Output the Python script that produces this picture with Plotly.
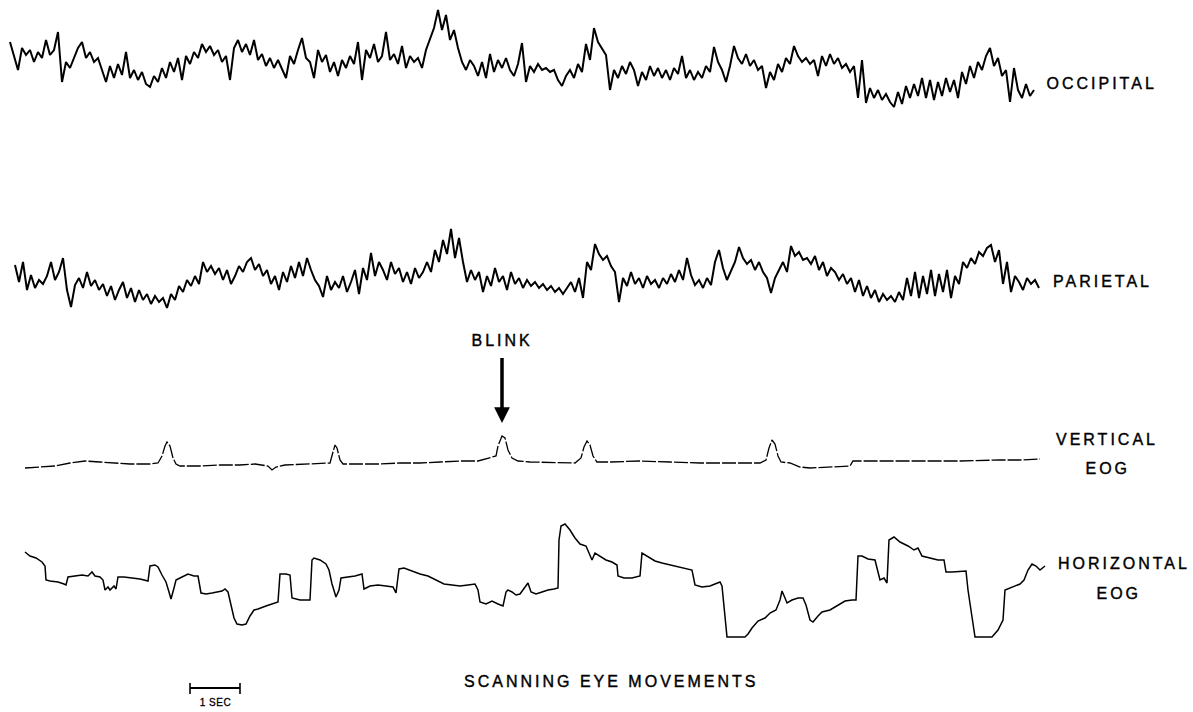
import numpy as np
import plotly.graph_objects as go

# ---------------- data ----------------
# EEG channels: uniform sampling, dt = 0.08 s, negative-up convention (arbitrary uV units)
DT = 0.08
OCCIPITAL_T0 = 0.0
OCCIPITAL = [-23, -10, 5, -17, -10, -15, -3, -13, -7, -25,
             -10, -15, -33, 17, -3, 3, -7, -17, -23, -7,
             -13, -3, -7, 5, 17, 1, 13, -1, 10, -13,
             13, 5, 15, 7, 19, 22, 11, 17, 3, 13,
             -3, 7, -7, 15, -9, -1, -13, -7, -21, -13,
             -19, -10, -15, -3, -9, 15, -17, -25, -13, -21,
             -10, -25, -5, -11, 1, -7, 3, -5, 5, 13,
             -9, -1, -15, -27, -7, -3, 13, -15, -3, -10,
             7, -3, 11, -5, 3, -9, -1, -23, 15, -15,
             -7, -21, -3, -9, -33, -5, -11, -1, -19, 3,
             -9, -3, -7, 3, -15, -27, -37, -55, -35, -50,
             -25, -35, -17, -3, 5, -5, 1, 11, -3, 13,
             -11, 7, -5, 3, -7, 5, 11, -1, -22, 17,
             1, 7, -1, 5, 3, 7, 5, 15, 21, 11,
             5, 13, -1, 7, -21, -5, -37, -23, -17, -10,
             25, 5, 13, 1, 9, -3, 5, 21, 7, 15,
             1, 11, 3, 13, 5, 15, 3, 9, -9, 13,
             5, 15, 7, 13, 1, 7, -18, -3, 5, 17,
             1, -19, -7, -1, -11, 1, -5, 5, 1, 23,
             7, 15, -1, 7, -7, -1, -19, -9, -3, -7,
             -1, -5, 11, -9, 1, -11, -1, -7, 3, -1,
             7, 1, 33, -5, 38, 23, 33, 25, 35, 29,
             37, 42, 27, 39, 21, 33, 19, 31, 13, 33,
             15, 35, 17, 31, 13, 27, 15, 33, 7, 19,
             1, 13, -3, 5, -9, -17, 1, -7, 11, 5,
             37, 3, 25, 33, 19, 31, 25]

PARIETAL_T0 = 0.1
PARIETAL = [-15, 2, -18, 10, -5, 8, 0, 4, -4, -18,
            0, -8, -22, 10, 27, 5, -2, 8, -8, 6,
            0, 10, 4, 16, 6, 20, 10, 2, 18, 8,
            22, 10, 20, 14, 24, 16, 22, 18, 28, 14,
            20, 6, 12, 0, 6, -4, 4, -18, -8, -14,
            -6, -12, 0, -10, 4, -4, -14, -8, -18, -22,
            -10, -16, -4, -10, 4, -4, 10, -8, 2, -14,
            -2, -18, -4, -22, -10, 0, 6, 17, -4, 10,
            2, 8, -4, 12, 2, -10, 14, -12, 0, -27,
            -4, -18, -10, 0, -18, -6, -12, 2, -8, 4,
            -12, -2, -8, -18, -8, -30, -18, -40, -26, -51,
            -22, -42, -18, 2, -10, 0, -8, 12, -4, 6,
            -12, 2, -4, 10, -8, 4, -2, 8, 0, 6,
            2, 8, 4, 10, 6, 12, 8, 14, 8, 2,
            12, -2, 18, -18, -10, -36, -26, -20, -24, -14,
            -8, 22, -2, 6, -8, 4, -2, 8, -4, 4,
            0, 8, -2, 4, -6, 2, -10, 0, -22, -5,
            5, 0, 8, -2, 5, -18, -30, -12, 0, -10,
            -18, -33, -22, -16, -20, -10, -18, -8, -2, 13,
            -2, -10, -18, -8, -34, -24, -28, -20, -22, -16,
            -24, -10, -18, -4, -12, -8, 0, -6, 4, -2,
            12, 0, 16, 6, 18, 10, 22, 14, 20, 16,
            22, 12, 20, -2, 16, -8, 18, -4, 14, -10,
            16, -6, 12, -10, 18, -4, 4, -18, -12, -22,
            -16, -28, -24, -32, -35, -18, -30, 4, -18, 12,
            -4, 2, 10, -2, 4, 0, 8]

# EOG channels: irregular sample times (s), negative-up
VEOG_T = [0.30, 0.60, 0.90, 1.20, 1.50, 1.80, 2.10, 2.40, 2.80, 2.96,
          3.04, 3.10, 3.14, 3.20, 3.26, 3.32, 3.40, 3.80, 4.20, 4.60,
          4.90, 5.16, 5.24, 5.32, 5.50, 6.40, 6.46, 6.50, 6.54, 6.60,
          6.66, 7.00, 7.40, 7.80, 8.20, 8.60, 9.00, 9.36, 9.60, 9.72,
          9.76, 9.84, 9.90, 9.96, 10.04, 10.16, 10.40, 11.00, 11.30, 11.42,
          11.48, 11.54, 11.60, 11.66, 11.74, 12.00, 12.60, 13.20, 13.80, 14.40,
          15.00, 15.12, 15.18, 15.24, 15.30, 15.36, 15.42, 15.60, 15.80, 16.00,
          16.40, 16.80, 16.86, 17.40, 18.20, 19.00, 19.80, 20.20, 20.60]
VEOG = [4, 3, 2, -1, -3, -2, -1, 0, 0, -1,
        -8, -18, -22, -18, -6, 0, 2, 2, 1, 1,
        0, 2, 6, 3, 1, -1, -12, -19, -16, -4,
        0, 0, 0, -1, -1, -2, -3, -3, -6, -8,
        -18, -28, -26, -14, -6, -3, -2, -1, -1, -6,
        -17, -23, -19, -8, -2, -2, -3, -2, -1, -1,
        -1, -4, -16, -24, -20, -8, -2, -1, 3, 4,
        3, 2, -3, -3, -3, -3, -4, -4, -5]

HEOG_T = [0.30, 0.40, 0.52, 0.64, 0.70, 0.72, 0.80, 0.96, 1.08, 1.12,
          1.16, 1.30, 1.44, 1.56, 1.64, 1.70, 1.80, 1.86, 1.90, 1.96,
          2.00, 2.08, 2.12, 2.16, 2.28, 2.44, 2.60, 2.76, 2.80, 2.90,
          2.96, 3.04, 3.12, 3.18, 3.22, 3.28, 3.32, 3.40, 3.48, 3.56,
          3.68, 3.76, 3.82, 3.92, 4.04, 4.16, 4.24, 4.30, 4.36, 4.42,
          4.48, 4.54, 4.64, 4.72, 4.80, 4.88, 4.96, 5.12, 5.24, 5.36,
          5.40, 5.52, 5.60, 5.64, 5.80, 6.00, 6.04, 6.08, 6.20, 6.32,
          6.38, 6.44, 6.52, 6.58, 6.62, 6.76, 6.90, 7.04, 7.08, 7.20,
          7.36, 7.52, 7.66, 7.72, 7.78, 7.88, 8.04, 8.20, 8.36, 8.52,
          8.68, 8.84, 9.00, 9.16, 9.30, 9.36, 9.40, 9.52, 9.64, 9.76,
          9.86, 9.92, 9.96, 10.04, 10.12, 10.20, 10.32, 10.36, 10.42, 10.52,
          10.64, 10.76, 10.88, 10.96, 10.98, 11.02, 11.10, 11.20, 11.30, 11.40,
          11.52, 11.60, 11.64, 11.70, 11.80, 11.92, 12.04, 12.14, 12.16, 12.28,
          12.44, 12.60, 12.64, 12.76, 12.90, 13.04, 13.20, 13.36, 13.52, 13.64,
          13.70, 13.84, 14.00, 14.12, 14.20, 14.24, 14.28, 14.34, 14.50, 14.70,
          14.76, 14.84, 14.96, 15.10, 15.20, 15.32, 15.40, 15.44, 15.50, 15.54,
          15.64, 15.76, 15.86, 15.92, 16.00, 16.06, 16.16, 16.24, 16.40, 16.56,
          16.70, 16.84, 16.92, 16.96, 17.04, 17.16, 17.30, 17.36, 17.40, 17.48,
          17.54, 17.58, 17.68, 17.80, 17.96, 18.08, 18.16, 18.24, 18.40, 18.56,
          18.68, 18.72, 18.84, 19.00, 19.12, 19.16, 19.24, 19.30, 19.50, 19.64,
          19.76, 19.86, 19.90, 20.00, 20.12, 20.20, 20.28, 20.36, 20.44, 20.52,
          20.60, 20.70]
HEOG = [-28, -24, -22, -18, -14, 0, 1, 2, 4, 5,
        -3, -4, -5, -4, -8, -4, -3, 0, 10, 7,
        10, 6, 9, -3, -3, -2, -1, 1, -14, -15,
        -13, -5, 2, 12, 19, 8, 0, -2, -4, -6,
        -4, -4, 13, 14, 13, 12, 11, 9, 12, 25,
        38, 44, 45, 44, 36, 30, 29, 26, 24, 22,
        -6, -6, -5, 18, 20, 20, -20, -22, -20, -16,
        -10, 4, 17, 10, -2, -3, -4, -6, 9, 6,
        5, 6, 7, 13, -11, -12, -9, -6, -4, 0,
        4, 5, 6, 5, 4, 10, 22, 24, 21, 24,
        26, 12, 10, 12, 15, 14, 6, 3, 12, 14,
        12, 10, 9, 8, -40, -54, -56, -50, -42, -36,
        -34, -25, -20, -27, -24, -20, -18, -15, -4, -2,
        -2, -4, -27, -23, -19, -17, -15, -13, -11, -10,
        5, 7, 6, 4, 2, 6, 30, 57, 57, 57,
        54, 48, 41, 38, 33, 30, 20, 11, 18, 23,
        20, 18, 18, 25, 40, 42, 36, 32, 30, 25,
        21, 20, 20, -24, -24, -21, -20, -8, 0, -2,
        3, -40, -43, -38, -34, -30, -32, -24, -22, -20,
        -20, -8, -8, -9, -9, 10, 40, 57, 57, 57,
        50, 40, 10, 8, 6, 4, 0, -10, -16, -14,
        -10, -14]

# label lines for each channel
CHANNEL_LABELS = [["OCCIPITAL"], ["PARIETAL"], ["VERTICAL", "EOG"], ["HORIZONTAL", "EOG"]]
TITLE = "SCANNING EYE MOVEMENTS"
BLINK_LABEL = "BLINK"
SCALE_LABEL = "1 SEC"
SCALE_BAR_START = 3.6   # s
SCALE_BAR_LEN = 1.0     # s

# ---------------- layout helpers ----------------
W, H = 1193, 712
X_RANGE = [-0.2, 23.66]           # seconds across the full width
BASELINE_PX = [65, 280, 464, 580]  # vertical placement of each channel (px from top)
LABEL_PX = [[(1101, 83)], [(1102, 281)], [(1107, 440), (1108, 468)], [(1124, 563), (1119, 593)]]


def pap(xp, yp):
    return xp / W, 1 - yp / H


fig = go.Figure()

t_occ = OCCIPITAL_T0 + DT * np.arange(len(OCCIPITAL))
t_par = PARIETAL_T0 + DT * np.arange(len(PARIETAL))

series = [(t_occ, OCCIPITAL, 2.0, "solid"), (t_par, PARIETAL, 2.0, "solid"),
          (VEOG_T, VEOG, 1.3, "14px,2px"), (HEOG_T, HEOG, 1.5, "solid")]
for i, (t, v, w, d) in enumerate(series):
    fig.add_trace(go.Scatter(x=t, y=v, mode="lines",
                             line=dict(color="#000000", width=w, dash=d),
                             yaxis="y" if i == 0 else f"y{i+1}",
                             showlegend=False, hoverinfo="skip"))

layout_axes = {}
for i, b in enumerate(BASELINE_PX):
    key = "yaxis" if i == 0 else f"yaxis{i+1}"
    ax = dict(range=[H - b, -b], visible=False, fixedrange=True)
    if i > 0:
        ax["overlaying"] = "y"
    layout_axes[key] = ax

font = dict(family="Liberation Sans, Arial, sans-serif", size=16, color="#000000")

ann = []
for lines, positions in zip(CHANNEL_LABELS, LABEL_PX):
    for text, (xp, yp) in zip(lines, positions):
        x, y = pap(xp, yp)
        ann.append(dict(text=text, x=x, y=y, xref="paper", yref="paper",
                        showarrow=False, font=font, xanchor="center", yanchor="middle"))

x, y = pap(611, 681)
ann.append(dict(text=TITLE, x=x, y=y, xref="paper", yref="paper", showarrow=False,
                font=font, xanchor="center", yanchor="middle"))

x, y = pap(0, 702)
ann.append(dict(text=SCALE_LABEL, x=SCALE_BAR_START + SCALE_BAR_LEN / 2, y=y,
                xref="x", yref="paper", showarrow=False,
                font=dict(family=font["family"], size=10, color="#000000"),
                xanchor="center", yanchor="middle"))

# blink arrow pointing at the largest vertical EOG deflection
ib = int(np.argmin(VEOG))
ann.append(dict(text=BLINK_LABEL, x=VEOG_T[ib], y=VEOG[ib], xref="x", yref="y3",
                showarrow=True, ax=0, ay=-96, arrowhead=2, arrowsize=0.9,
                arrowwidth=3.5, arrowcolor="#000000", standoff=13, startstandoff=8,
                font=font))

_, ybar = pap(0, 688)
_, ytop = pap(0, 683)
_, ybot = pap(0, 694)
shapes = [
    dict(type="line", xref="x", yref="paper", x0=SCALE_BAR_START, x1=SCALE_BAR_START + SCALE_BAR_LEN,
         y0=ybar, y1=ybar, line=dict(color="#000000", width=1.8)),
    dict(type="line", xref="x", yref="paper", x0=SCALE_BAR_START, x1=SCALE_BAR_START,
         y0=ytop, y1=ybot, line=dict(color="#000000", width=1.6)),
    dict(type="line", xref="x", yref="paper", x0=SCALE_BAR_START + SCALE_BAR_LEN,
         x1=SCALE_BAR_START + SCALE_BAR_LEN, y0=ytop, y1=ybot, line=dict(color="#000000", width=1.6)),
]

fig.update_layout(
    width=W, height=H, margin=dict(l=0, r=0, t=0, b=0),
    paper_bgcolor="white", plot_bgcolor="white",
    xaxis=dict(range=X_RANGE, visible=False, fixedrange=True),
    annotations=ann, shapes=shapes, **layout_axes,
)

post = """
var gd = document.getElementById('{plot_id}');
function spacing(){
  gd.querySelectorAll('.annotation-text').forEach(function(e){
    var s = e.textContent;
    e.style.letterSpacing = (s === '1 SEC') ? '0.5px' : '3px';
    e.style.stroke = '#000';
    e.style.strokeWidth = (s === '1 SEC') ? '0.3px' : '0.4px';
  });
}
spacing();
gd.on('plotly_afterplot', spacing);
"""
fig.write_html("out.html", post_script=post, config={"displayModeBar": False})
